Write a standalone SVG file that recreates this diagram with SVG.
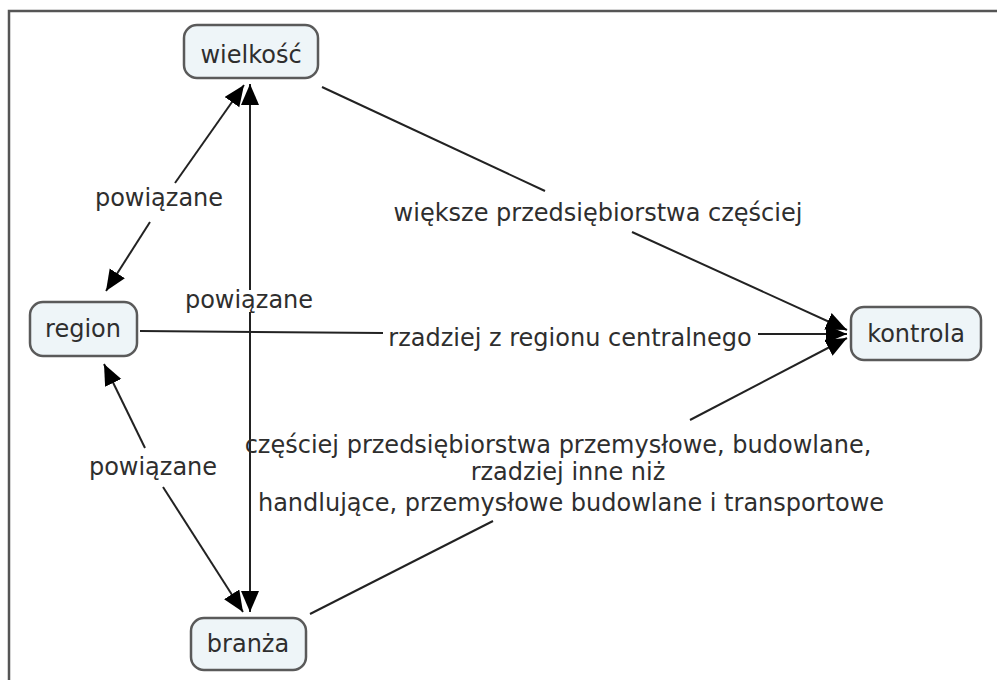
<svg xmlns="http://www.w3.org/2000/svg" width="997" height="680" viewBox="0 0 997 680">
<defs>
<style>
.node rect{fill:#eef5f8;stroke:#5a5a5a;stroke-width:2.5}
.node text,.lbl{font-family:"DejaVu Sans",Verdana,sans-serif;font-size:24px;fill:#2e2e2e;text-anchor:middle}
.c line{stroke:#222;stroke-width:2}
.a{marker-end:url(#arr)}
</style>
<marker id="arr" markerUnits="userSpaceOnUse" markerWidth="24" markerHeight="20" refX="21" refY="9" orient="auto">
<path d="M0,0 L21,9 L0,18 Z" fill="#000"/>
</marker>
</defs>
<rect width="997" height="680" fill="#fff"/>
<path d="M9,680 V11 H997" fill="none" stroke="#555" stroke-width="2.5"/>
<g class="c" id="connectors">
<line class="a" x1="175" y1="183" x2="244" y2="85"/>
<line class="a" x1="150" y1="222" x2="106" y2="291"/>
<line class="a" x1="250" y1="290" x2="250" y2="84"/>
<line class="a" x1="250" y1="312" x2="250" y2="612"/>
<line class="a" x1="145" y1="448" x2="104" y2="364"/>
<line class="a" x1="163" y1="487" x2="243" y2="612"/>
<line x1="322" y1="87" x2="545" y2="191"/>
<line class="a" x1="632" y1="232" x2="847" y2="330"/>
<line x1="140" y1="331" x2="383" y2="333"/>
<line class="a" x1="758" y1="334" x2="847" y2="334"/>
<line x1="310" y1="614" x2="493" y2="521"/>
<line class="a" x1="690" y1="420" x2="847" y2="338"/>
</g>
<g id="labels">
<text class="lbl" x="159" y="206">powiązane</text>
<text class="lbl" x="249" y="308">powiązane</text>
<text class="lbl" x="153" y="475">powiązane</text>
<text class="lbl" x="598" y="221">większe przedsiębiorstwa częściej</text>
<text class="lbl" x="570" y="346">rzadziej z regionu centralnego</text>
<text class="lbl" x="558" y="453">częściej przedsiębiorstwa przemysłowe, budowlane,</text>
<text class="lbl" x="568" y="480">rzadziej inne niż</text>
<text class="lbl" x="571" y="511">handlujące, przemysłowe budowlane i transportowe</text>
</g>
<g class="node" id="wielkosc">
<rect x="184" y="25" width="134" height="53" rx="13"/>
<text x="251" y="63">wielkość</text>
</g>
<g class="node" id="region">
<rect x="30" y="302" width="107" height="54" rx="13"/>
<text x="83" y="337">region</text>
</g>
<g class="node" id="kontrola">
<rect x="851" y="307" width="130" height="53" rx="13"/>
<text x="916" y="342">kontrola</text>
</g>
<g class="node" id="branza">
<rect x="191" y="618" width="115" height="52" rx="13"/>
<text x="248" y="652">branża</text>
</g>
</svg>
